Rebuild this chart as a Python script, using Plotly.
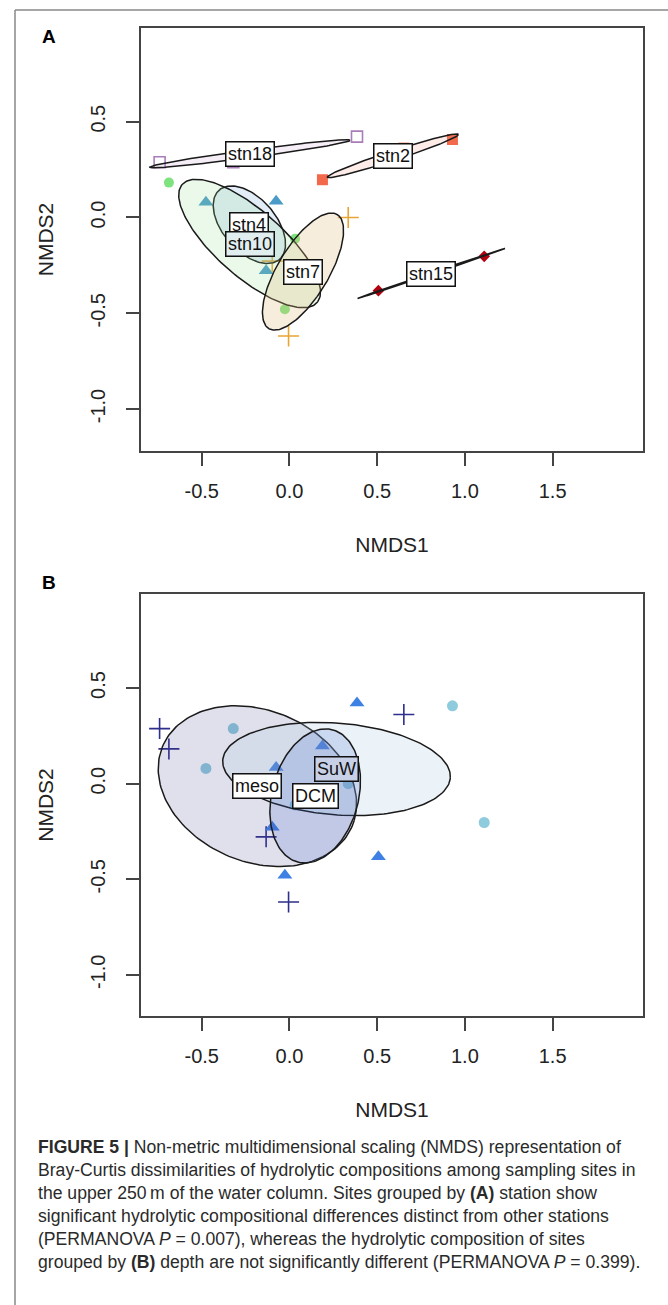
import numpy as np
import plotly.graph_objects as go

# ---------------- data (shared NMDS scores of the 17 samples) ----------------
nmds1 = [-0.740, -0.320, 0.385, 0.188, 0.652, 0.929, 0.507, 1.110, -0.476,
         -0.076, -0.133, -0.687, 0.032, -0.026, 0.335, -0.098, -0.005]
nmds2 = [0.288, 0.288, 0.422, 0.197, 0.362, 0.407, -0.382, -0.203, 0.080,
         0.085, -0.278, 0.182, -0.111, -0.479, 0.000, -0.228, -0.619]
station = ["stn18", "stn18", "stn18", "stn2", "stn2", "stn2", "stn15", "stn15",
           "stn4", "stn4", "stn4", "stn10", "stn10", "stn10", "stn7", "stn7", "stn7"]
depth = ["meso", "SuW", "DCM", "DCM", "meso", "SuW", "DCM", "SuW", "SuW",
         "DCM", "meso", "meso", "SuW", "DCM", "SuW", "DCM", "meso"]

stations = ["stn18", "stn2", "stn15", "stn4", "stn10", "stn7"]
depths = ["meso", "SuW", "DCM"]

# ellipse shape parameters (semi-major, semi-minor, angle in degrees)
st_ell_a = [0.575, 0.39, 0.44, 0.25, 0.493, 0.356]
st_ell_b = [0.020, 0.025, 0.004, 0.145, 0.18, 0.142]
st_ell_ang = [7, 16.6, 17.2, -44, -38, 56]
dp_ell_a = [0.58, 0.65, 0.36]
dp_ell_b = [0.40, 0.24, 0.245]
dp_ell_ang = [-18, -4, 72]

x_ticks = [-0.5, 0.0, 0.5, 1.0, 1.5]
x_ticktext = ["-0.5", "0.0", "0.5", "1.0", "1.5"]
y_ticks = [-1.0, -0.5, 0.0, 0.5]
y_ticktext = ["-1.0", "-0.5", "0.0", "0.5"]

caption_lines = [
    "<b>FIGURE 5 |</b> Non-metric multidimensional scaling (NMDS) representation of",
    "Bray-Curtis dissimilarities of hydrolytic compositions among sampling sites in",
    "the upper 250\u2009m of the water column. Sites grouped by <b>(A)</b> station show",
    "significant hydrolytic compositional differences distinct from other stations",
    "(PERMANOVA <i>P</i> = 0.007), whereas the hydrolytic composition of sites",
    "grouped by <b>(B)</b> depth are not significantly different (PERMANOVA <i>P</i> = 0.399).",
]

# ---------------- styles ----------------
st_style = {
    "stn18": dict(symbol="square-open", color="#a97db8", size=11, fill="rgba(200,160,205,0.18)"),
    "stn2": dict(symbol="square", color="#f26a4b", size=11, fill="rgba(242,150,120,0.18)"),
    "stn15": dict(symbol="diamond", color="#b3000f", size=9, fill="rgba(179,0,15,0.15)"),
    "stn4": dict(symbol="triangle-up", color="#4b9bc8", size=13, fill="rgba(110,165,215,0.20)"),
    "stn10": dict(symbol="circle", color="#7ee27e", size=10, fill="rgba(150,225,150,0.20)"),
    "stn7": dict(symbol="cross-thin-open", color="#e8a534", size=15, fill="rgba(225,190,130,0.28)"),
}
dp_style = {
    "meso": dict(symbol="cross-thin-open", color="#2e2e8c", size=15, fill="rgba(70,70,140,0.17)"),
    "SuW": dict(symbol="circle", color="#8ecbdd", size=11, fill="rgba(170,200,225,0.22)"),
    "DCM": dict(symbol="triangle-up", color="#3f80e4", size=13, fill="rgba(70,110,210,0.20)"),
}

W, H = 668, 1305
FONT = "Liberation Sans, Arial, Helvetica, sans-serif"


def px_x(p):
    return p / W


def px_y(p):
    return 1 - p / H


def ellipse(cx, cy, a, b, ang):
    t = np.linspace(0, 2 * np.pi, 181)
    th = np.deg2rad(ang)
    ex = cx + a * np.cos(t) * np.cos(th) - b * np.sin(t) * np.sin(th)
    ey = cy + a * np.cos(t) * np.sin(th) + b * np.sin(t) * np.cos(th)
    return ex, ey


fig = go.Figure()
x1 = np.array(nmds1)
y1 = np.array(nmds2)

annotations = []


def add_panel(groups, labels_of, styles, ea, eb, eang, xa, ya, label_bg):
    cents = []
    for g in groups:
        m = np.array([l == g for l in labels_of])
        s = styles[g]
        lw = 1.6 if "open" in s["symbol"] else 0
        fig.add_trace(go.Scatter(
            x=x1[m], y=y1[m], mode="markers", xaxis=xa, yaxis=ya, showlegend=False,
            marker=dict(symbol=s["symbol"], size=s["size"], color=s["color"],
                        line=dict(width=lw, color=s["color"]))))
        cents.append((x1[m].mean(), y1[m].mean()))
    for i, g in enumerate(groups):
        cx, cy = cents[i]
        ex, ey = ellipse(cx, cy, ea[i], eb[i], eang[i])
        fig.add_trace(go.Scatter(
            x=ex, y=ey, mode="lines", fill="toself", fillcolor=styles[g]["fill"],
            line=dict(color="#1a1a1a", width=1.5), xaxis=xa, yaxis=ya,
            showlegend=False, hoverinfo="skip"))
    for i, g in enumerate(groups):
        cx, cy = cents[i]
        annotations.append(dict(
            x=cx, y=cy, xref=xa, yref=ya, text=g, showarrow=False,
            xanchor="center", yanchor="middle",
            font=dict(family=FONT, size=18, color="#111"),
            bgcolor=label_bg.get(g, "white"), bordercolor="#111", borderwidth=1.5,
            borderpad=1.5))


add_panel(stations, station, st_style, st_ell_a, st_ell_b, st_ell_ang, "x", "y",
          {"stn10": "rgba(225,238,240,1)"})
add_panel(depths, depth, dp_style, dp_ell_a, dp_ell_b, dp_ell_ang, "x2", "y2",
          {"SuW": "rgba(200,208,232,1)"})

xdom = [px_x(141), px_x(643)]
axis_common = dict(
    showgrid=False, zeroline=False, showline=True, linecolor="#444", linewidth=2,
    mirror=True, ticks="outside", ticklen=13, tickwidth=1.5, tickcolor="#444",
    tickfont=dict(family=FONT, size=20, color="#222"), automargin=False,
)
xax = dict(axis_common, range=[-0.846, 2.015], tickvals=x_ticks, ticktext=x_ticktext,
           ticklabelstandoff=8,
           title=dict(text="NMDS1", font=dict(family=FONT, size=21, color="#222"), standoff=36))
yax = dict(axis_common, tickvals=y_ticks, ticktext=y_ticktext, tickangle=-90,
           ticklabelstandoff=13,
           title=dict(text="NMDS2", font=dict(family=FONT, size=21, color="#222"), standoff=28))

fig.update_layout(
    width=W, height=H, margin=dict(l=0, r=0, t=0, b=0),
    paper_bgcolor="white", plot_bgcolor="white",
    xaxis=dict(xax, domain=xdom, anchor="y"),
    yaxis=dict(yax, domain=[px_y(451), px_y(28)], range=[-1.219, 0.989], anchor="x"),
    xaxis2=dict(xax, domain=xdom, anchor="y2"),
    yaxis2=dict(yax, domain=[px_y(1016), px_y(594)], range=[-1.215, 0.992], anchor="x2"),
)

# panel letters
annotations.append(dict(x=px_x(49), y=px_y(36), xref="paper", yref="paper", text="<b>A</b>",
                        xanchor="center", yanchor="middle",
                        showarrow=False, font=dict(family=FONT, size=19, color="#000")))
annotations.append(dict(x=px_x(49), y=px_y(582), xref="paper", yref="paper", text="<b>B</b>",
                        xanchor="center", yanchor="middle",
                        showarrow=False, font=dict(family=FONT, size=19, color="#000")))

# caption
cap_y0, cap_dy = 1147, 23
for i, line in enumerate(caption_lines):
    annotations.append(dict(
        x=px_x(36), y=px_y(cap_y0 + i * cap_dy), xref="paper", yref="paper",
        xanchor="left", yanchor="middle", text=line, showarrow=False, align="left",
        font=dict(family="Liberation Sans, Arial, sans-serif",
                  size=17.6, color="#2a2a2a")))

fig.update_layout(annotations=annotations)

# outer figure frame (top and left edges)
fig.add_shape(type="line", xref="paper", yref="paper", x0=px_x(15), x1=1.0,
              y0=px_y(10), y1=px_y(10), line=dict(color="#888", width=1.5))
fig.add_shape(type="line", xref="paper", yref="paper", x0=px_x(15), x1=px_x(15),
              y0=px_y(10), y1=0.0, line=dict(color="#888", width=1.5))

fig.write_html("out.html")
